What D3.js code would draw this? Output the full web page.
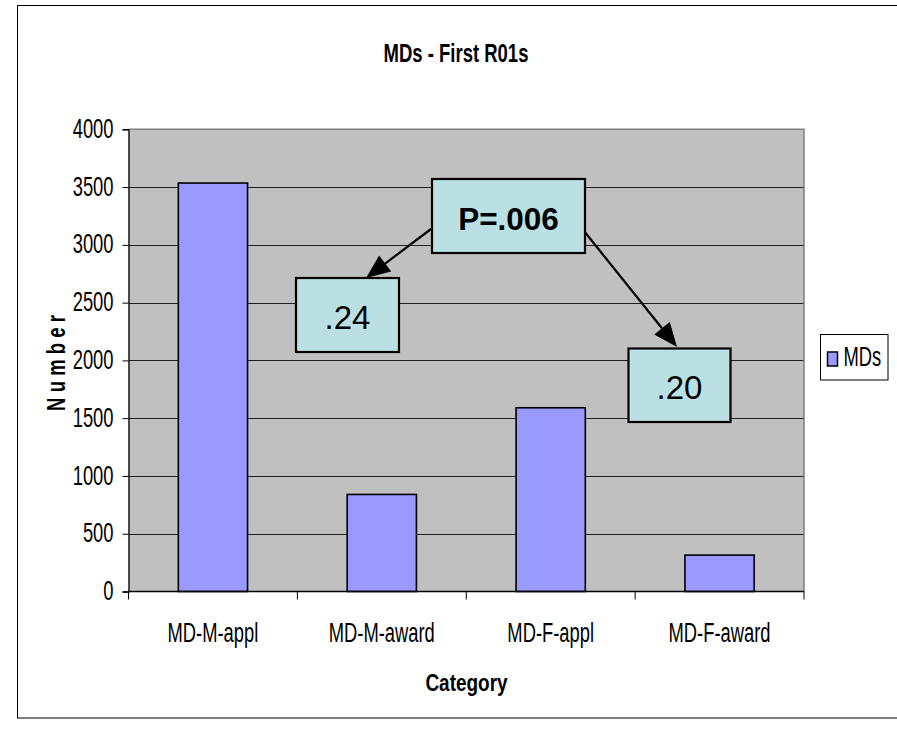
<!DOCTYPE html>
<html><head><meta charset="utf-8">
<script src="https://cdn.jsdelivr.net/npm/d3@7/dist/d3.min.js"></script>
<style>
html,body{margin:0;padding:0;background:#fff;}
svg{display:block;font-family:"Liberation Sans",Arial,sans-serif;}
</style></head>
<body>
<svg id="chart" width="897" height="733"></svg>
<script>
// ---- data ----
const categories = ["MD-M-appl", "MD-M-award", "MD-F-appl", "MD-F-award"];
const seriesName = "MDs";
const values = [3535, 840, 1590, 315];
const yTicks = [0, 500, 1000, 1500, 2000, 2500, 3000, 3500, 4000];
const noteTexts = ["P=.006", ".24", ".20"];

// ---- layout ----
const W = 897, H = 733;
const plot = {left: 128.5, right: 804, top: 129.3, bottom: 591.5};
const SX = 0.68; // horizontal squeeze of chart font
const svg = d3.select("#chart");

function squeeze(sel, sx) {
  sel.each(function () {
    const t = d3.select(this);
    const x = +t.attr("x") || 0, y = +t.attr("y") || 0;
    t.attr("transform", `translate(${x},${y}) scale(${sx},1) translate(${-x},${-y})`);
  });
}

// outer frame
svg.append("rect").attr("x", 17.5).attr("y", 5.5).attr("width", 900).attr("height", 712.5)
  .attr("fill", "#fff").attr("stroke", "#000").attr("stroke-width", 1);

const x = d3.scaleBand().domain(categories).range([plot.left, plot.right]).padding(0);
const y = d3.scaleLinear().domain([0, 4000]).range([plot.bottom, plot.top]);

// plot background
svg.append("rect").attr("x", plot.left).attr("y", plot.top)
  .attr("width", plot.right - plot.left).attr("height", plot.bottom - plot.top)
  .attr("fill", "#C0C0C0");

// gridlines
svg.append("g").selectAll("line").data(yTicks.filter(d => d > 0 && d < 4000)).join("line")
  .attr("x1", plot.left).attr("x2", plot.right)
  .attr("y1", d => Math.round(y(d)) + 0.5).attr("y2", d => Math.round(y(d)) + 0.5)
  .attr("stroke", "#202020").attr("stroke-width", 1);

// top & right border of plot
svg.append("path")
  .attr("d", `M${plot.left},${plot.top}H${plot.right}V${plot.bottom}`)
  .attr("fill", "none").attr("stroke", "#808080").attr("stroke-width", 1.5);

// bars
const barW = x.bandwidth() * 0.41;
svg.append("g").selectAll("rect").data(values).join("rect")
  .attr("x", (d, i) => x(categories[i]) + (x.bandwidth() - barW) / 2)
  .attr("y", d => y(d))
  .attr("width", barW)
  .attr("height", d => y(0) - y(d))
  .attr("fill", "#9999FF").attr("stroke", "#000").attr("stroke-width", 1.6);

// y axis
const yAxis = svg.append("g").attr("transform", `translate(${plot.left},0)`)
  .call(d3.axisLeft(y).tickValues(yTicks).tickSize(6).tickPadding(9).tickFormat(d3.format("d")));
yAxis.select(".domain").attr("stroke", "#000").attr("stroke-width", 1.3);
yAxis.selectAll(".tick line").attr("stroke", "#000");
yAxis.selectAll(".tick text")
  .attr("font-size", 27).attr("fill", "#000").attr("font-family", "Liberation Sans, Arial, sans-serif")
  .attr("dy", "0.3em")
  .each(function () {
    const t = d3.select(this); const xx = +t.attr("x");
    t.attr("transform", `translate(${xx},0) scale(${SX},1) translate(${-xx},0)`);
  });

// x axis
svg.append("line").attr("x1", plot.left).attr("x2", plot.right)
  .attr("y1", plot.bottom).attr("y2", plot.bottom).attr("stroke", "#000").attr("stroke-width", 1.5);
const bounds = categories.map(c => x(c)).concat([plot.right]);
svg.append("g").selectAll("line").data(bounds).join("line")
  .attr("x1", d => d).attr("x2", d => d)
  .attr("y1", plot.bottom).attr("y2", plot.bottom + 8)
  .attr("stroke", "#000").attr("stroke-width", 1);
svg.append("g").selectAll("text").data(categories).join("text")
  .attr("x", d => x(d) + x.bandwidth() / 2).attr("y", 642.5)
  .attr("text-anchor", "middle").attr("font-size", 27).text(d => d)
  .call(squeeze, SX);

// titles
svg.append("text").attr("x", 456).attr("y", 62).attr("text-anchor", "middle")
  .attr("font-size", 25).attr("font-weight", "bold").text("MDs - First R01s")
  .call(squeeze, 0.74);
svg.append("text").attr("x", 466.5).attr("y", 691).attr("text-anchor", "middle")
  .attr("font-size", 24).attr("font-weight", "bold").text("Category")
  .call(squeeze, 0.79);
svg.append("text")
  .attr("transform", `translate(65,363) rotate(-90) scale(0.74,1)`)
  .attr("text-anchor", "middle").attr("font-size", 25).attr("font-weight", "bold")
  .attr("letter-spacing", 7).attr("dx", 3.5).text("Number");

// legend
const lg = svg.append("g");
lg.append("rect").attr("x", 820.5).attr("y", 334.5).attr("width", 67.5).attr("height", 45.5)
  .attr("fill", "#fff").attr("stroke", "#000").attr("stroke-width", 1);
lg.append("rect").attr("x", 827.5).attr("y", 352).attr("width", 10).attr("height", 14)
  .attr("fill", "#9999FF").attr("stroke", "#000").attr("stroke-width", 1.5);
lg.append("text").attr("x", 843.5).attr("y", 366).attr("font-size", 27).text(seriesName)
  .call(squeeze, SX);

// annotations
const boxes = [
  {x0: 432, y0: 179, x1: 585, y1: 253, bold: true, size: 31.5, ty: 229.5},
  {x0: 296, y0: 278, x1: 399, y1: 352, bold: false, size: 33, ty: 328.5},
  {x0: 628.5, y0: 348.5, x1: 730.5, y1: 422, bold: false, size: 33, ty: 398.5}
];
const arrows = [
  {x1: 431, y1: 229, x2: 366, y2: 278},
  {x1: 580, y1: 226, x2: 677, y2: 347}
];
const ann = svg.append("g");
arrows.forEach(a => {
  const ang = Math.atan2(a.y2 - a.y1, a.x2 - a.x1);
  const L = 24, Wd = 10;
  const bx = a.x2 - L * Math.cos(ang), by = a.y2 - L * Math.sin(ang);
  ann.append("line").attr("x1", a.x1).attr("y1", a.y1).attr("x2", bx).attr("y2", by)
    .attr("stroke", "#000").attr("stroke-width", 2.2);
  const px = -Math.sin(ang) * Wd, py = Math.cos(ang) * Wd;
  ann.append("path")
    .attr("d", `M${a.x2},${a.y2}L${bx + px},${by + py}L${bx - px},${by - py}Z`)
    .attr("fill", "#000");
});
boxes.forEach((b, i) => {
  ann.append("rect").attr("x", b.x0).attr("y", b.y0).attr("width", b.x1 - b.x0).attr("height", b.y1 - b.y0)
    .attr("fill", "#BBE0E3").attr("stroke", "#000").attr("stroke-width", 2.2);
  ann.append("text").attr("x", (b.x0 + b.x1) / 2).attr("y", b.ty).attr("text-anchor", "middle")
    .attr("font-size", b.size).attr("font-weight", b.bold ? "bold" : "normal")
    .text(noteTexts[i]);
});
</script>
</body></html>
